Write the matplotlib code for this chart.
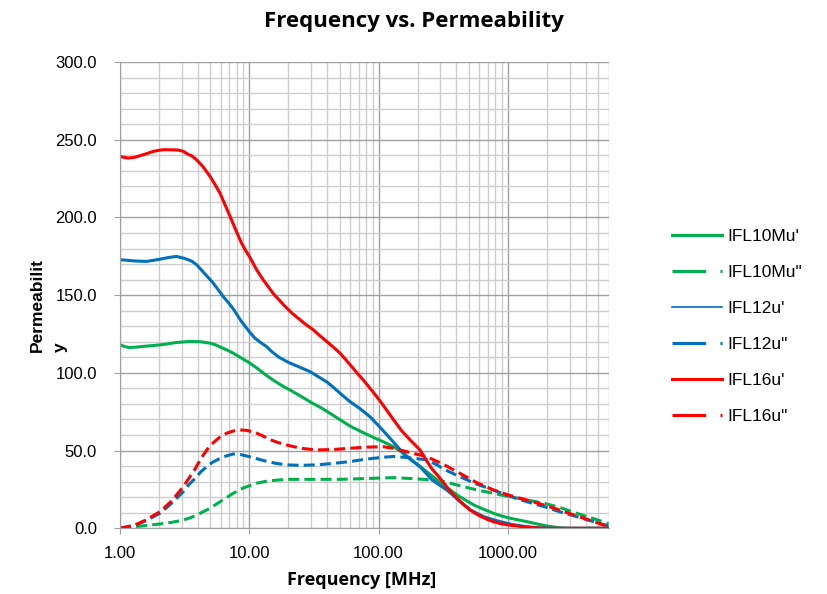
import matplotlib
matplotlib.use('Agg')
import matplotlib.pyplot as plt
from matplotlib.lines import Line2D
from matplotlib.ticker import FixedLocator, LogLocator, NullFormatter

plt.rcParams['font.family'] = ['Liberation Sans', 'DejaVu Sans']

# IFL10M
f_10_re = [1, 1.1, 1.19, 1.35, 1.5, 1.75, 2.04, 2.4, 2.7, 3.1, 3.48, 4.2, 4.97, 5.5, 6, 6.7,
           7.5, 8.7, 10, 11.5, 13, 15.5, 18.4, 20.6, 25, 30, 36, 42, 50, 60, 72, 91, 110, 130,
           155, 180, 236, 280, 320, 370, 425, 490, 560, 660, 770, 880, 1000, 1200, 1400,
           1700, 2000, 2500, 3000, 6000]
v_10_re = [118, 116.8, 116.3, 116.6, 117, 117.5, 118, 118.8, 119.5, 119.9, 120.2, 120, 119.1,
           118, 116.5, 114.8, 112.7, 109.5, 106.5, 103, 99.5, 95, 91.2, 89, 85, 81, 77.5, 74,
           70, 65.8, 62.5, 58.5, 55.5, 52.5, 48.5, 44, 36.4, 31.5, 27.5, 23.8, 20.3, 17.2,
           14.5, 12, 9.7, 8.1, 6.8, 5.4, 4.3, 2.7, 1.5, 0.3, 0, 0]
f_10_im = [1, 1.27, 1.6, 2.04, 2.5, 3.09, 3.5, 3.8, 4.2, 4.69, 5.2, 5.8, 6.6, 7.5, 9, 11.4, 14,
           19.4, 30, 50, 80, 130, 180, 265, 320, 420, 575, 770, 1030, 1400, 1900, 2500, 3400,
           4500, 6000]
v_10_im = [0, 1, 1.8, 2.8, 3.8, 5.3, 6.8, 8, 9.8, 11.8, 14, 16.5, 19.5, 22.5, 26, 29, 30.5,
           31.5, 31.5, 31.5, 32, 32.6, 32, 31.1, 30, 27.5, 24.7, 22.5, 20.3, 18.3, 16.1, 13.5,
           9.7, 6.5, 3]

# IFL12
f_12_re = [1, 1.15, 1.3, 1.6, 2.0, 2.4, 2.74, 3.2, 3.6, 3.92, 4.5, 5.26, 5.8, 6.3, 7.0, 7.6,
           8.7, 10, 11, 12, 13.6, 15, 17, 20, 24, 29.5, 35, 40, 45, 50.3, 60, 71.8, 85.5, 100,
           115, 130, 160, 185, 209, 260, 300, 336, 380, 420, 470, 511, 580, 650, 750, 870,
           1100, 1400, 1800, 2200, 6000]
v_12_re = [172.8, 172.4, 172, 171.7, 173, 174.3, 174.9, 173.5, 171.8, 169.5, 164, 157.8, 153,
           149, 144.5, 140.6, 133, 126.5, 122.5, 120, 116.9, 113.5, 110, 106.8, 104, 100.8,
           97, 94, 90.5, 86.9, 81.5, 77, 71.9, 66, 60.5, 55.5, 47, 43, 39.7, 31, 27.5, 24.7,
           21, 17.5, 14.5, 11.8, 9.5, 7.5, 5.8, 4.3, 2.3, 1, 0.2, 0, 0]
f_12_im = [1, 1.3, 1.6, 2.04, 2.5, 3.09, 3.4, 3.8, 4.2, 4.69, 5.2, 5.8, 6.6, 7.5, 8.5, 10, 13,
           16, 19.4, 25, 33, 45, 60, 80, 108, 130, 170, 236, 280, 320, 425, 570, 770, 1000,
           1400, 1900, 2500, 3400, 4600, 6000]
v_12_im = [0, 2, 5, 9.7, 16, 23.6, 28, 32, 36.2, 39.7, 42.5, 44.5, 46.5, 47.8, 47.5, 46.1,
           43.5, 41.8, 40.8, 40.5, 40.8, 41.8, 42.9, 44.5, 45.7, 46.2, 45.5, 44, 41, 38, 33.2,
           28.5, 24.7, 21, 17.1, 14, 10.7, 7.5, 4.3, 1.5]

# IFL16
f_16_re = [1, 1.08, 1.16, 1.3, 1.4, 1.6, 1.81, 2.0, 2.2, 2.8, 3.1, 3.3, 3.6, 3.92, 4.4, 4.97,
           5.4, 5.93, 6.5, 7.1, 7.9, 8.7, 9.4, 10, 10.7, 11.4, 12.8, 14, 15.5, 17, 18.4, 21,
           24, 27, 31.3, 35, 40, 45, 50.3, 56, 62, 68, 76, 88, 101, 115, 130, 150, 175, 209,
           235, 260, 300, 336, 375, 420, 465, 511, 570, 640, 700, 770, 880, 1000, 1170, 1350,
           1570, 2000, 6000]
v_16_re = [239.3, 238.6, 238.2, 238.7, 239.5, 241, 242.5, 243.2, 243.6, 243.4, 242.5, 241,
           239.5, 237, 232.5, 226.4, 221.5, 215.7, 208, 200.6, 191.5, 183.5, 178.5, 175, 170.5,
           166.3, 159.9, 155.5, 150.5, 147, 143.8, 139, 135, 131.5, 127.7, 124, 120, 116.3,
           112.7, 108.3, 104, 100, 95.5, 89, 82.7, 76.2, 70, 63, 56.9, 50.4, 43.5, 38, 32,
           26.8, 22, 18, 14.5, 11.8, 9.2, 7, 5.6, 4.3, 3, 2.2, 1.5, 0.9, 0.4, 0, 0]
f_16_im = [1, 1.3, 1.6, 2.04, 2.5, 3.09, 3.4, 3.8, 4.2, 4.69, 5.1, 5.6, 6.1, 6.7, 7.5, 8.5, 9.5,
           10.5, 11.4, 12.7, 14, 16.5, 19.4, 25, 33, 45, 60, 80, 108, 130, 170, 236, 320, 425,
           570, 770, 1000, 1400, 1900, 2500, 3400, 4600, 6000]
v_16_im = [0, 2, 5.5, 10.7, 17.5, 26.8, 32, 38, 44.5, 50.4, 54, 57, 59.5, 61.2, 62.6, 63.3, 63,
           62.2, 61.2, 59.5, 57.5, 55.3, 53.6, 51.5, 50.4, 50.7, 51.5, 52.2, 52.5, 51.5, 49,
           46.1, 41, 35.4, 29.5, 24.7, 21.5, 18.2, 15, 11.8, 8, 4.3, 1]

labels = ["IFL10Mu'", 'IFL10Mu"', "IFL12u'", 'IFL12u"', "IFL16u'", 'IFL16u"']
green = '#00b050'
blue = '#0070c0'
red = '#ff0000'

x_ticks = [1, 10, 100, 1000]
x_ticklabels = ['1.00', '10.00', '100.00', '1000.00']
y_ticks = [0, 50, 100, 150, 200, 250, 300]

fig = plt.figure(figsize=(8.27, 5.94), dpi=100)
ax = fig.add_axes([120 / 827, 1 - 528.3 / 594, (608.5 - 120) / 827, (528.3 - 62) / 594])

dash = (0, (3.6, 1.7))
lw = 2.2
ax.plot(f_10_re, v_10_re, color=green, lw=lw)
ax.plot(f_10_im, v_10_im, color=green, lw=lw, ls=dash)
ax.plot(f_12_re, v_12_re, color=blue, lw=lw)
ax.plot(f_12_im, v_12_im, color=blue, lw=lw, ls=dash)
ax.plot(f_16_re, v_16_re, color=red, lw=lw)
ax.plot(f_16_im, v_16_im, color=red, lw=lw, ls=dash)

ax.set_xscale('log')
ax.set_xlim(1, 6000)
ax.set_ylim(0, 300)
ax.xaxis.set_major_locator(FixedLocator(x_ticks))
ax.set_xticklabels(x_ticklabels)
ax.xaxis.set_minor_locator(LogLocator(base=10, subs=range(2, 10)))
ax.xaxis.set_minor_formatter(NullFormatter())
ax.set_yticks(y_ticks)
ax.set_yticklabels(['%.1f' % v for v in y_ticks])
ax.set_yticks(range(0, 301, 10), minor=True)

ax.grid(which='major', color='#a0a0a0', lw=1.0)
ax.grid(which='minor', color='#cdcdcd', lw=1.0)
ax.set_axisbelow(True)
for s in ['top', 'right']:
    ax.spines[s].set_visible(False)
for s in ['left', 'bottom']:
    ax.spines[s].set_color('#a0a0a0')
ax.tick_params(axis='both', which='major', direction='out', length=4.5, color='#a0a0a0',
               labelsize=12, labelcolor='black')
ax.tick_params(axis='y', which='major', pad=12)
ax.tick_params(axis='x', which='major', pad=8)
ax.tick_params(which='minor', length=0)

title_font = ['Open Sans', 'DejaVu Sans']
fig.text(0.5, 1 - 21 / 594, 'Frequency vs. Permeability', ha='center', va='center',
         fontsize=16, fontweight='bold', family=title_font)
fig.text(362 / 827, 1 - 580 / 594, 'Frequency [MHz]', ha='center', va='center',
         fontsize=13, fontweight='bold', family=title_font)
# y label wrapped the way the spreadsheet did it
fig.text(37 / 827, 1 - 352 / 594, 'Permeabilit', rotation=90, ha='center', va='bottom',
         fontsize=12.5, fontweight='bold')
fig.text(60 / 827, 1 - 352 / 594, 'y', rotation=90, ha='center', va='bottom',
         fontsize=12.5, fontweight='bold')

leg_dash = (0, (11, 4.7))
handles = [
    Line2D([], [], color=green, lw=lw),
    Line2D([], [], color=green, lw=lw, ls=leg_dash),
    Line2D([], [], color=blue, lw=1.2),
    Line2D([], [], color=blue, lw=lw, ls=leg_dash),
    Line2D([], [], color=red, lw=lw),
    Line2D([], [], color=red, lw=lw, ls=leg_dash),
]
fig.legend(handles, labels, loc='center left', bbox_to_anchor=(672 / 827, 1 - 326.5 / 594),
           frameon=False, fontsize=12.5, borderpad=0, handlelength=2.9, handletextpad=0.3,
           labelspacing=1.2, borderaxespad=0)

fig.savefig('out.png', dpi=100)
